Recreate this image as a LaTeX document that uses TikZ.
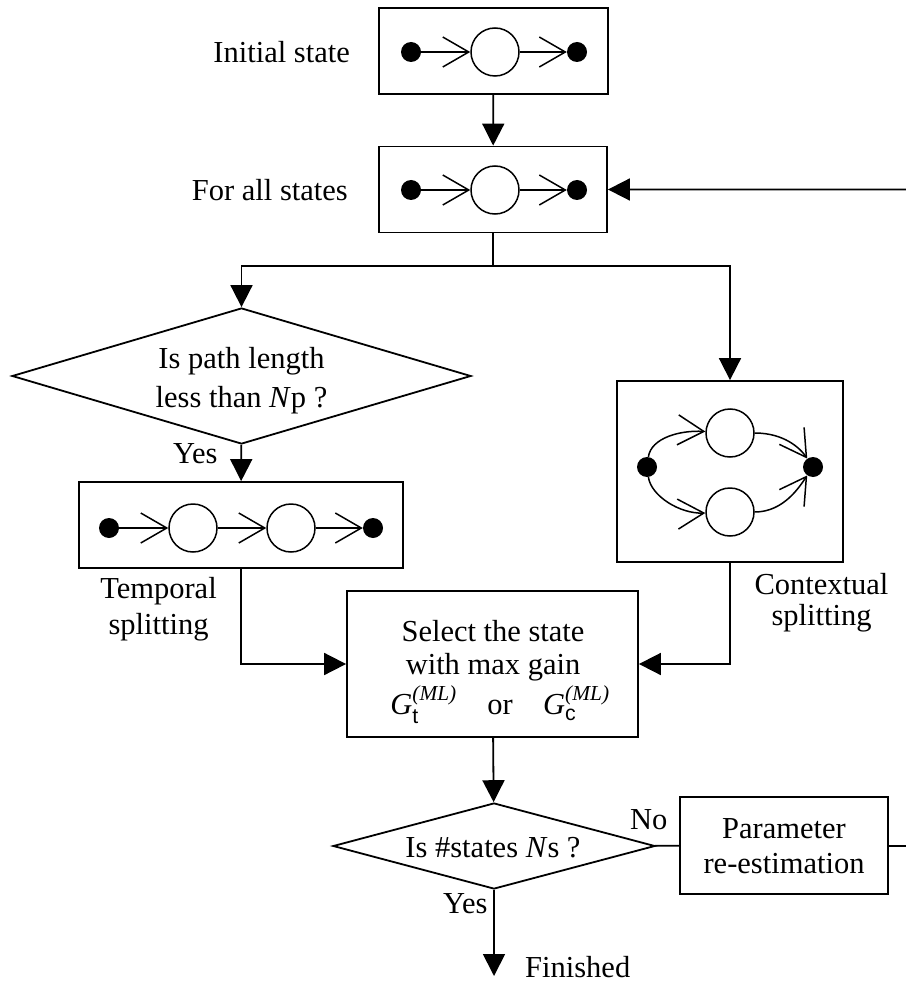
\documentclass[tikz,border=0pt]{standalone}
\usepackage{fontspec}
\usepackage{amsmath}
\setmainfont{Liberation Serif}
\setsansfont{Liberation Sans}
\usetikzlibrary{arrows.meta,shapes.geometric}

\newcommand\lbfont{\fontsize{30.5}{36}\selectfont}
\newcommand\gain[1]{$\text{\itshape G}^{\text{\itshape(ML)}}_{\text{\sffamily #1}}$}

\tikzset{
  flow/.style={line width=1.8pt},
  arr/.style={flow, -{Triangle[length=22pt,width=22pt]}},
  box/.style={draw, line width=1.8pt, inner sep=0pt},
  dec/.style={diamond, draw, line width=1.8pt, inner sep=0pt},
  dot/.style={circle, fill=black, inner sep=0pt, minimum size=20pt},
  stn/.style={circle, draw, line width=1.5pt, inner sep=0pt, minimum size=48pt},
  barb/.style={line width=1.5pt, -{Straight Barb[length=26pt,width=30pt]}},
  lbl/.style={inner sep=0pt, font=\lbfont},
}

\begin{document}
\begin{tikzpicture}[x=1pt, y=-1pt]
\useasboundingbox (0,0) rectangle (905,984);

% ---- initial model ----
\node[box, minimum width=229pt, minimum height=86pt] (init) at (493.5,51) {};
\node[dot] (i1) at (411,52) {};
\node[stn] (i2) at (495,52) {};
\node[dot] (i3) at (577,52) {};
\draw[barb] (i1) -- (i2);
\draw[barb] (i2) -- (i3);
\node[lbl, anchor=base east] (tinit) at (350,63) {Initial state};

% ---- loop over all states ----
\node[box, minimum width=228pt, minimum height=86pt] (fas) at (493,189.5) {};
\node[dot] (f1) at (411,190) {};
\node[stn] (f2) at (495,190) {};
\node[dot] (f3) at (577,190) {};
\draw[barb] (f1) -- (f2);
\draw[barb] (f2) -- (f3);
\node[lbl, anchor=base east] (tfas) at (348,201) {For all states};
\draw[arr] (init) -- (fas);

% ---- branch ----
\coordinate (split) at (493,266);
\draw[flow] (fas) -- (split);

% path-length test
\node[dec, minimum width=459pt, minimum height=136pt] (d1) at (241.5,376) {};
\node[lbl, anchor=base] (q1a) at (241.5,368) {Is path length};
\node[lbl, anchor=base] (q1b) at (241.5,407) {less than \textit{N}p ?};
\draw[arr] (split) -| (d1);
\node[lbl, anchor=base west] (yes1) at (173,463) {Yes};

% temporal splitting
\node[box, minimum width=324pt, minimum height=86pt] (tmp) at (241,525) {};
\node[dot] (t1) at (109,528) {};
\node[stn] (t2) at (193,528) {};
\node[stn] (t3) at (291,528) {};
\node[dot] (t4) at (373,528) {};
\draw[barb] (t1) -- (t2);
\draw[barb] (t2) -- (t3);
\draw[barb] (t3) -- (t4);
\draw[arr] (d1) -- (tmp);
\node[lbl, anchor=base] (ttmpa) at (158.5,598) {Temporal};
\node[lbl, anchor=base] (ttmpb) at (158.5,634) {splitting};

% contextual splitting
\node[box, minimum width=226pt, minimum height=181pt] (ctx) at (730,471.5) {};
\node[dot] (cl) at (647,467) {};
\node[stn] (ct) at (730,433) {};
\node[stn] (cb) at (730,512) {};
\node[dot] (cr) at (813,467) {};
\draw[barb] (cl) .. controls (651,438) and (680,430) .. (ct);
\draw[barb] (ct) .. controls (784,433) and (800,448) .. (cr);
\draw[barb] (cl) .. controls (651,496) and (680,514) .. (cb);
\draw[barb] (cb) .. controls (784,512) and (800,486) .. (cr);
\draw[arr] (split) -| (ctx);
\node[lbl, anchor=base] (tctxa) at (821.5,594) {Contextual};
\node[lbl, anchor=base] (tctxb) at (821.5,625) {splitting};

% ---- selection ----
\node[box, minimum width=291pt, minimum height=146pt] (sel) at (492.5,664) {};
\node[lbl, anchor=base] (s1) at (493,641) {Select the state};
\node[lbl, anchor=base] (s2) at (493,674) {with max gain};
\node[lbl, anchor=base] (s3) at (500,714) {\gain{t}\quad or\quad\gain{c}};
\draw[arr] (tmp) |- (sel);
\draw[arr] (ctx) |- (sel);

% ---- stopping test ----
\node[dec, minimum width=322pt, minimum height=86pt] (d2) at (494,846) {};
\node[lbl, anchor=base] (q2) at (493,857) {Is \#states \textit{N}s ?};
\draw[arr] (sel) -- (d2);
\node[lbl, anchor=base west] (no) at (630,829) {No};
\node[lbl, anchor=base west] (yes2) at (443,913) {Yes};

\node[box, minimum width=208pt, minimum height=97pt] (par) at (784,845.5) {};
\node[lbl, anchor=base] (p1) at (784,838) {Parameter};
\node[lbl, anchor=base] (p2) at (784,873) {re-estimation};
\draw[flow] (d2) -- (par);

% feedback loop, its vertical run lies just past the right edge
\coordinate (fb1) at (909,846);
\coordinate (fb2) at (909,189.5);
\draw[arr] (par) -- (fb1) -- (fb2) -- (fas);

% end
\coordinate (fin) at (494,976);
\draw[arr] (d2) -- (fin);
\node[lbl, anchor=base west] (tfin) at (525,977) {Finished};
\end{tikzpicture}
\end{document}
